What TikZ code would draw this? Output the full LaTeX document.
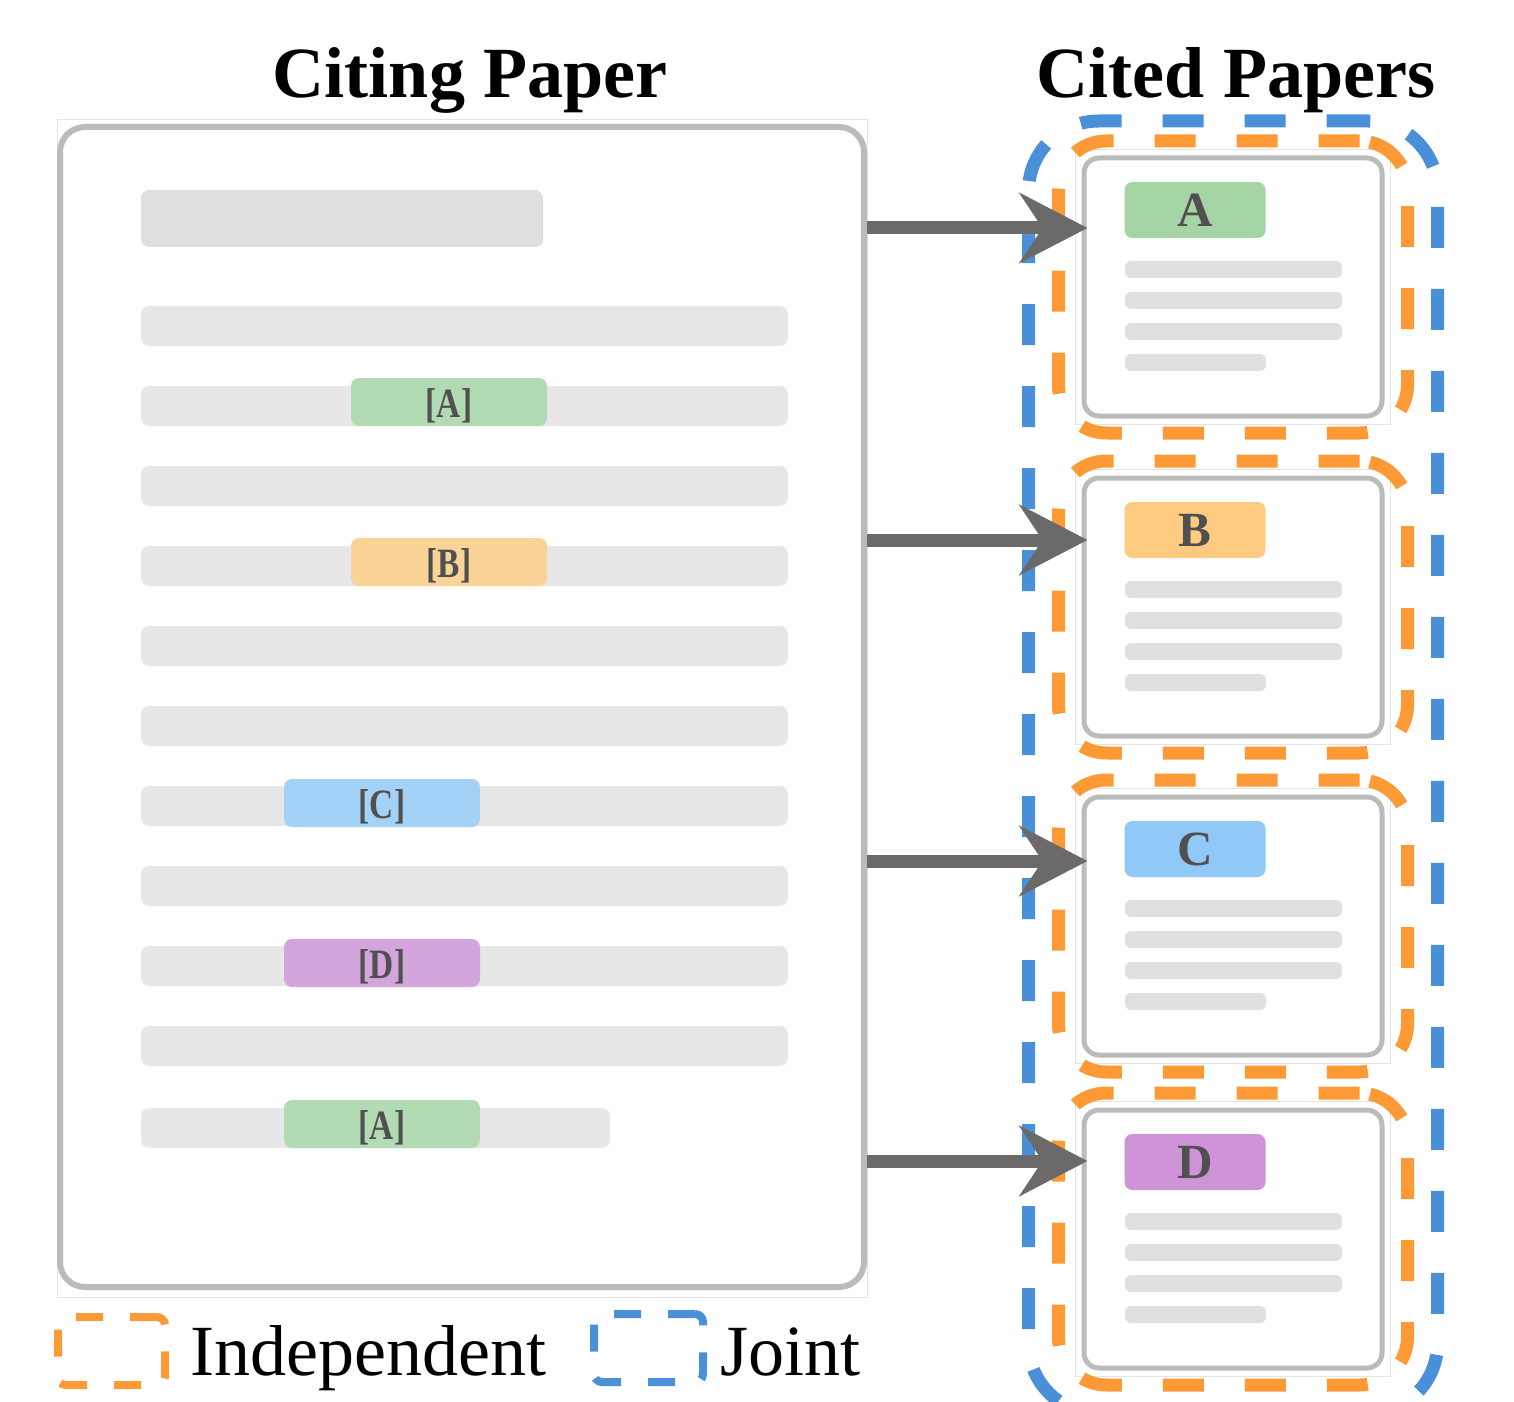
\documentclass[tikz,border=0pt]{standalone}
\usepackage{fontspec}
\setmainfont{Liberation Serif}
\usepackage{tikz}
\usetikzlibrary{arrows.meta,fit,positioning}

\definecolor{indepcol}{HTML}{FD9A35}
\definecolor{jointcol}{HTML}{4A90D9}
\definecolor{arrowgray}{HTML}{6B6969}
\definecolor{bordergray}{HTML}{BBBBBB}
\definecolor{thingray}{HTML}{E4E4E4}
\definecolor{headbar}{HTML}{DFDFDF}
\definecolor{bodyline}{HTML}{E7E7E7}
\definecolor{cardline}{HTML}{E0E0E0}
\definecolor{tagtext}{HTML}{505050}
\definecolor{citeA}{HTML}{B2DAB3}
\definecolor{citeB}{HTML}{FAD397}
\definecolor{citeC}{HTML}{A4D1F6}
\definecolor{citeD}{HTML}{D4A4DC}
\definecolor{tagA}{HTML}{A5D5A4}
\definecolor{tagB}{HTML}{FECB80}
\definecolor{tagC}{HTML}{90C8F7}
\definecolor{tagD}{HTML}{CF93D8}

\newlength{\pxu}
\setlength{\pxu}{0.2mm}
\newcommand{\citemark}[1]{\raisebox{-0.8mm}[\height][\depth]{\scalebox{1}[1.25]{#1}}}

\begin{document}
\begin{tikzpicture}[x=0.2mm,y=-0.2mm,>={Stealth[length=13.6mm,width=14mm,inset=4.6mm]}]
		\tikzstyle{heading}=[font=\fontsize{41}{48}\selectfont\bfseries, anchor=base]
		\tikzstyle{legend text}=[font=\fontsize{41}{48}\selectfont, anchor=base west, inner sep=0pt]
		\tikzstyle{paper}=[draw=bordergray, line width=1.2mm, rounded corners=5mm, inner sep=0pt]
		\tikzstyle{thinframe}=[draw=thingray, line width=0.2mm]
		\tikzstyle{card}=[draw=bordergray, line width=1mm, rounded corners=3mm, fill=white, minimum width=298*\pxu, minimum height=258*\pxu, inner sep=0pt]
		\tikzstyle{cite tag}=[rounded corners=1.6mm, minimum width=196*\pxu, minimum height=48*\pxu, inner sep=0pt, text=tagtext, font=\fontsize{19}{22}\selectfont\bfseries]
		\tikzstyle{card tag}=[rounded corners=1.6mm, minimum width=141*\pxu, minimum height=56*\pxu, inner sep=0pt, text=tagtext, font=\fontsize{28}{32}\selectfont\bfseries]
		\tikzstyle{indep}=[draw=indepcol, line width=2.6mm, dash pattern=on 8.2mm off 8.2mm, rounded corners=9.6mm]
		\tikzstyle{joint}=[draw=jointcol, line width=2.6mm, dash pattern=on 8.2mm off 8.2mm, rounded corners=14mm]
		\tikzstyle{indep key}=[draw=indepcol, line width=1.6mm, dash pattern=on 5.4mm off 5.4mm, rounded corners=1.6mm, minimum width=107*\pxu, minimum height=68*\pxu, inner sep=0pt]
		\tikzstyle{joint key}=[draw=jointcol, line width=1.6mm, dash pattern=on 5.4mm off 5.4mm, rounded corners=1.6mm, minimum width=109*\pxu, minimum height=68*\pxu, inner sep=0pt]
		\tikzstyle{link}=[->, draw=arrowgray, line width=2.6mm]

		\useasboundingbox (0,0) rectangle (1514,1402);

		% citing paper
		\node [heading] (citingTitle) at (470,98) {Citing Paper};
		\draw [thinframe] (57,120) rectangle (867,1297);
		\node [paper, fit={(60,127) (864,1287)}] (paper) {};
		\fill [headbar, rounded corners=1.6mm] (141,190) rectangle (543,247);
		\foreach \y in {306,386,...,1026}
			\fill [bodyline, rounded corners=1.6mm] (141,\y) rectangle (788,\y+40);
		\fill [bodyline, rounded corners=1.6mm] (141,1108) rectangle (610,1148);

		\node [cite tag, fill=citeA] (citeA1) at (449,402) {\citemark{[A]}};
		\node [cite tag, fill=citeB] (citeB1) at (449,562) {\citemark{[B]}};
		\node [cite tag, fill=citeC] (citeC1) at (382,803) {\citemark{[C]}};
		\node [cite tag, fill=citeD] (citeD1) at (382,963) {\citemark{[D]}};
		\node [cite tag, fill=citeA] (citeA2) at (382,1124) {\citemark{[A]}};

		% cited papers
		\node [heading] (citedTitle) at (1236,98) {Cited Papers};
		\foreach \name/\cy in {A/287, B/607, C/926, D/1239} {
			\node [card] (card\name) at (1233,\cy) {};
			\draw [thinframe] ([shift={(-6,-6)}]card\name.north west) rectangle ([shift={(6,6)}]card\name.south east);
			\node [card tag, fill=tag\name] (tag\name) at ([shift={(-38,-77)}]card\name.center) {\name};
			\foreach \dy in {-26,5,36}
				\fill [cardline, rounded corners=1.2mm] ([shift={(-108,\dy)}]card\name.center) rectangle +(217,17);
			\fill [cardline, rounded corners=1.2mm] ([shift={(-108,67)}]card\name.center) rectangle +(141,17);
			\node [indep, fit=(card\name), inner xsep=4.6mm, inner ysep=2.9mm] (indep\name) {};
		}
		\coordinate (jointFloor) at (1233,1400);
		\node [joint, fit=(indepA) (indepD) (jointFloor), inner xsep=4.7mm, inner ysep=2.7mm] (jointAll) {};

		% citation links
		\foreach \name/\ay in {A/228, B/540, C/861, D/1161} {
			\coordinate (aim\name) at (0,\ay);
			\draw [link] (paper.east |- aim\name) -- ([xshift=1.2mm]card\name.west |- aim\name);
		}

		% legend
		\node [indep key] (keyIndep) at (111.5,1351) {};
		\node [legend text] (txtIndep) at (190,1375) {Independent};
		\node [joint key] (keyJoint) at (648.5,1348) {};
		\node [legend text] (txtJoint) at (720,1375) {Joint};
	\end{tikzpicture}
\end{document}
